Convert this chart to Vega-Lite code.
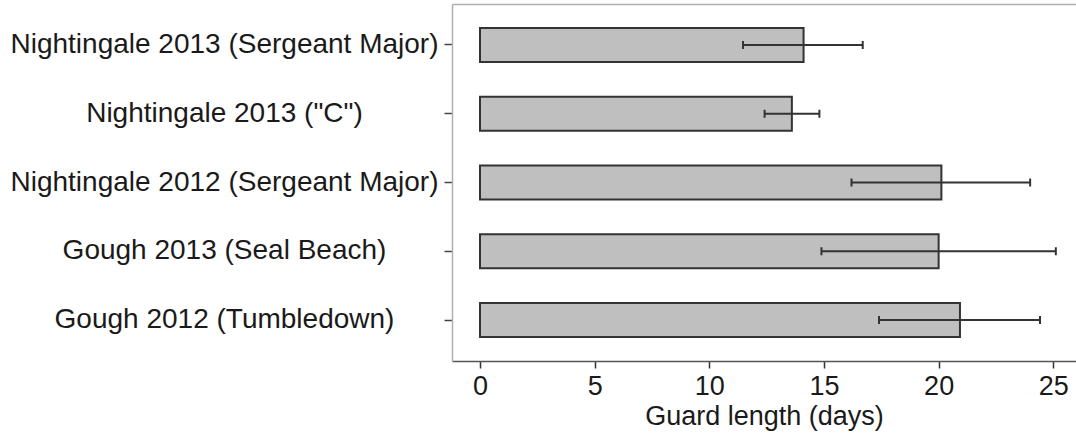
{
  "$schema": "https://vega.github.io/schema/vega-lite/v6.json",
  "autosize": "none",
  "padding": {"left": 452, "top": 4, "right": 0, "bottom": 75},
  "width": 624,
  "height": 357,
  "background": "white",
  "config": {
    "view": {"stroke": null},
    "font": "Liberation Sans"
  },
  "data": {
    "values": [
      {"site": "Nightingale 2013 (Sergeant Major)", "mean": 14.11, "lo": 11.47, "hi": 16.69},
      {"site": "Nightingale 2013 (\"C\")", "mean": 13.6, "lo": 12.41, "hi": 14.8},
      {"site": "Nightingale 2012 (Sergeant Major)", "mean": 20.12, "lo": 16.2, "hi": 23.99},
      {"site": "Gough 2013 (Seal Beach)", "mean": 20.0, "lo": 14.89, "hi": 25.11},
      {"site": "Gough 2012 (Tumbledown)", "mean": 20.93, "lo": 17.4, "hi": 24.42}
    ]
  },
  "encoding": {
    "y": {
      "field": "site",
      "type": "nominal",
      "sort": null,
      "scale": {"paddingInner": 0.5055, "paddingOuter": 0.349},
      "axis": {
        "title": null,
        "labelFontSize": 28,
        "labelColor": "#1a1a1a",
        "labelAlign": "center",
        "labelPadding": 220,
        "labelLimit": 0,
        "tickSize": 8,
        "tickColor": "#444",
        "tickWidth": 1.5,
        "domainColor": "#b0b0b0",
        "domainWidth": 1.5,
        "grid": false
      }
    }
  },
  "layer": [
    {
      "mark": {"type": "bar", "fill": "#bfbfbf", "stroke": "#333333", "strokeWidth": 2},
      "encoding": {
        "x": {
          "field": "mean",
          "type": "quantitative",
          "scale": {"domain": [-1.221, 25.99], "nice": false, "zero": false},
          "axis": {
            "orient": "bottom",
            "title": "Guard length (days)",
            "titleFontSize": 27,
            "titleFontWeight": "normal",
            "titleColor": "#1a1a1a",
            "titleBaseline": "alphabetic",
            "titleY": 63,
            "labelFontSize": 27,
            "labelColor": "#1a1a1a",
            "labelPadding": 5,
            "tickSize": 7,
            "tickColor": "#333",
            "tickWidth": 1.5,
            "domainColor": "#555",
            "domainWidth": 1.5,
            "values": [0, 5, 10, 15, 20, 25],
            "grid": false
          }
        }
      }
    },
    {
      "mark": {"type": "rule", "stroke": "#333333", "strokeWidth": 2},
      "encoding": {
        "x": {
          "field": "lo",
          "type": "quantitative",
          "axis": {
            "orient": "top",
            "labels": false,
            "ticks": false,
            "title": null,
            "grid": false,
            "domainColor": "#b0b0b0",
            "domainWidth": 1.5
          }
        },
        "x2": {"field": "hi"}
      }
    },
    {
      "mark": {"type": "tick", "color": "#333333", "thickness": 2, "size": 8, "opacity": 1},
      "encoding": {"x": {"field": "lo", "type": "quantitative", "axis": null}}
    },
    {
      "mark": {"type": "tick", "color": "#333333", "thickness": 2, "size": 8, "opacity": 1},
      "encoding": {"x": {"field": "hi", "type": "quantitative", "axis": null}}
    }
  ],
  "resolve": {"axis": {"x": "independent"}}
}
